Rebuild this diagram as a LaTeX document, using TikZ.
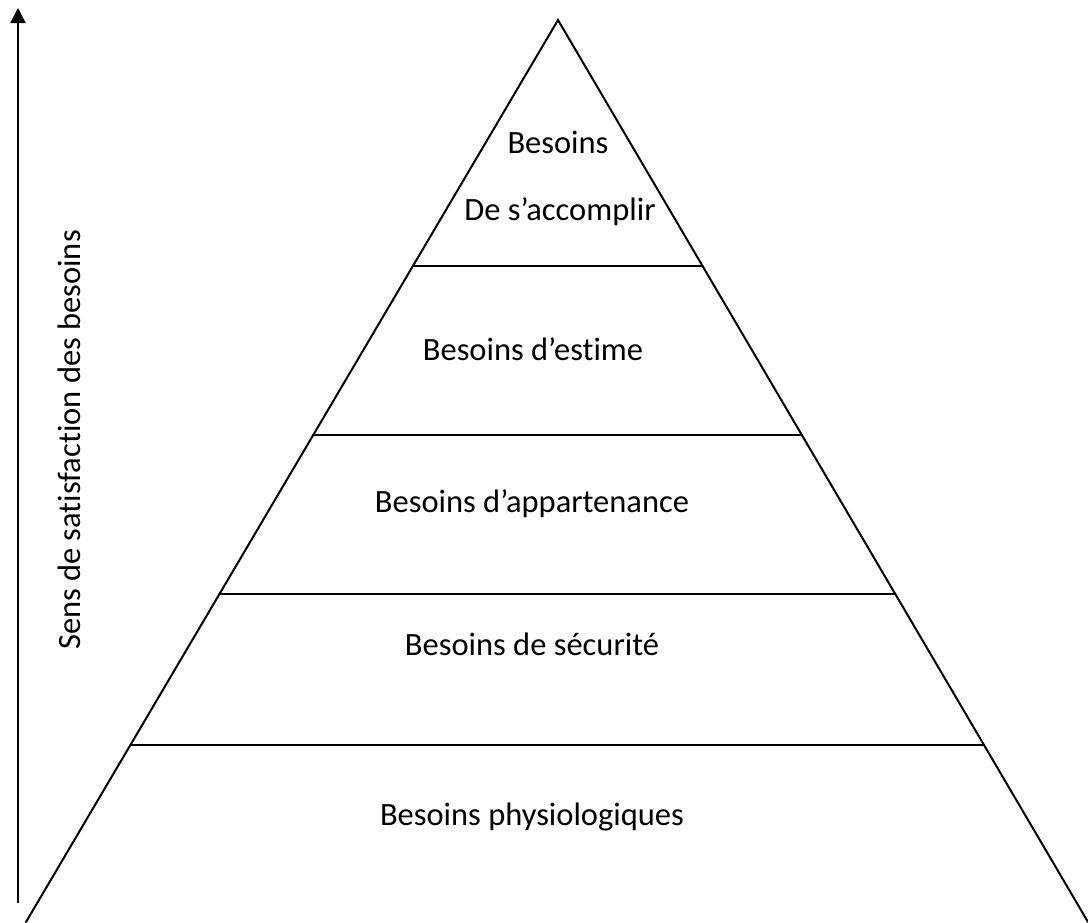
\documentclass[tikz,border=0pt]{standalone}
\usepackage{fontspec}
\setmainfont[Ligatures=NoCommon]{Carlito}
\usetikzlibrary{arrows.meta,calc}
\begin{document}
\begin{tikzpicture}[x=1pt,y=-1pt,
  edge/.style={line width=2pt, line cap=round},
  lvl/.style={anchor=base, font=\fontsize{32.5}{39}\selectfont, inner sep=0pt}]
\useasboundingbox (0,0) rectangle (1088,922);
\coordinate (apex) at (558,20);
\coordinate (bl) at (26,922);
\coordinate (br) at (1088,922);
\draw[edge] (bl) -- (apex) -- (br);
\foreach \t/\n in {0.2727/a,0.4601/b,0.6364/c,0.8038/d}{
  \coordinate (l\n) at ($(apex)!\t!(bl)$);
  \coordinate (r\n) at ($(apex)!\t!(br)$);
  \draw[edge] (l\n) -- (r\n);
}
\coordinate (arrbot) at (18,903);
\coordinate (arrtop) at (18,8);
\draw[line width=2.2pt, -{Triangle[width=15pt,length=15pt]}] (arrbot) -- (arrtop);
\node[lvl, rotate=90] (axis) at (80,440) {Sens de satisfaction des besoins};
\node[lvl] (t1) at (558,153) {Besoins};
\node[lvl] (t1b) at (560,220) {De s’accomplir};
\node[lvl] (t2) at (533,360) {Besoins d’estime};
\node[lvl] (t3) at (532,512) {Besoins d’appartenance};
\node[lvl] (t4) at (532,655) {Besoins de sécurité};
\node[lvl] (t5) at (532,825) {Besoins physiologiques};
\end{tikzpicture}
\end{document}
